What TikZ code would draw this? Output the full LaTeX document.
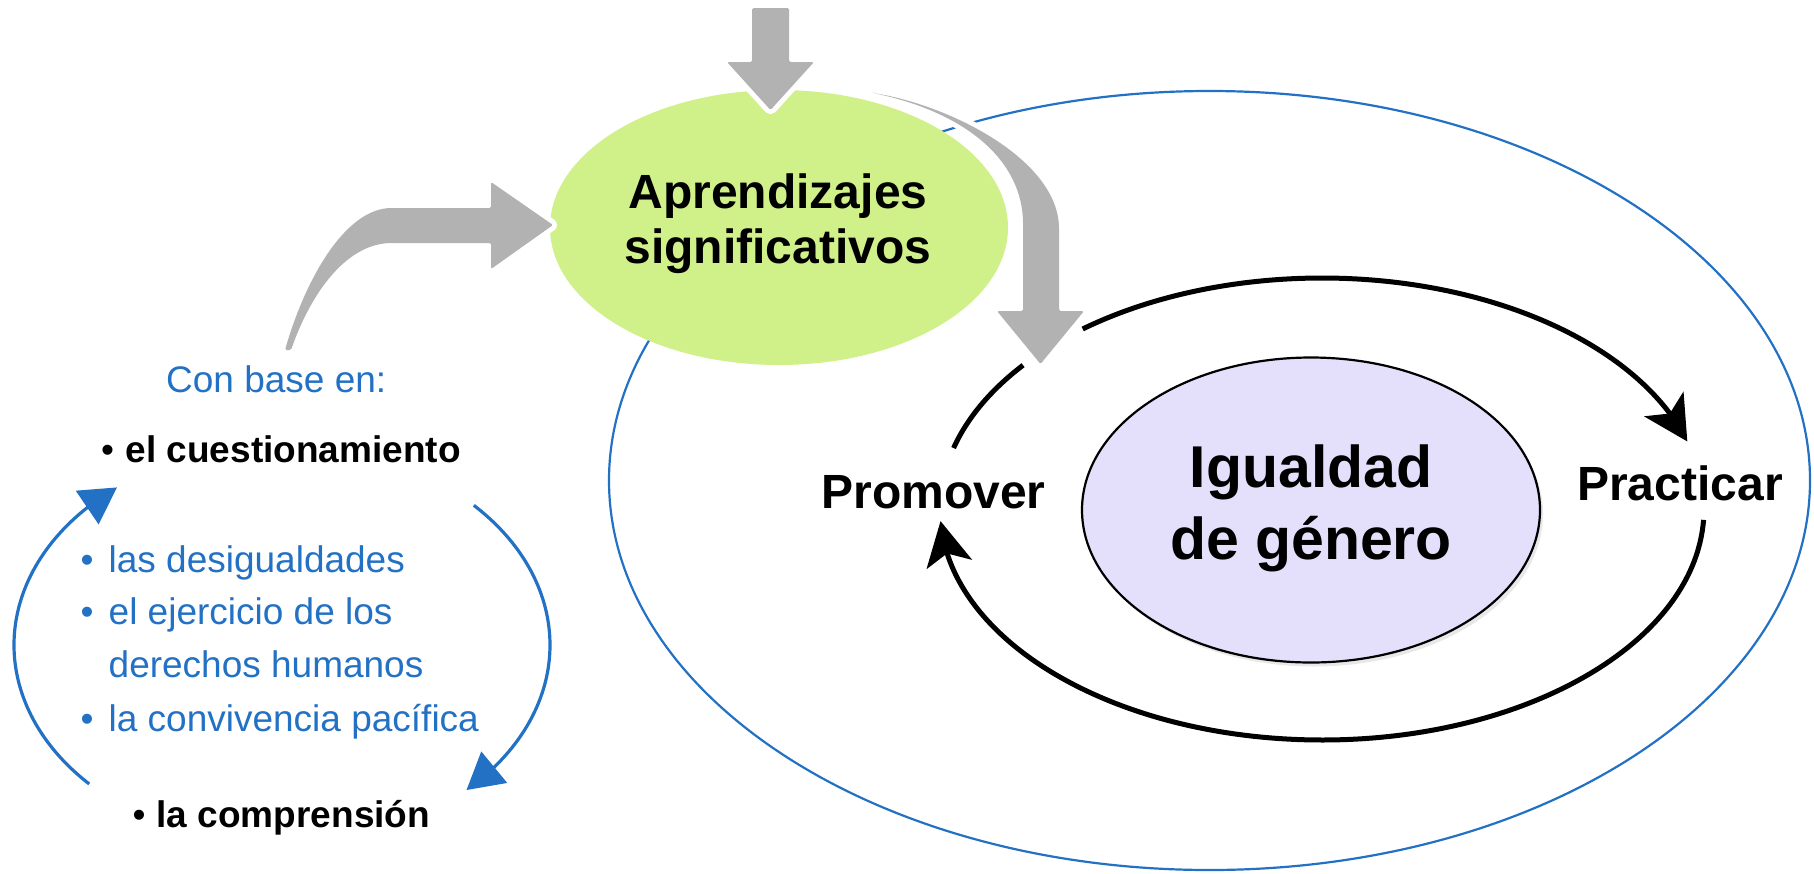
\documentclass[tikz,border=0pt]{standalone}
\usepackage{fontspec}
\setmainfont{Liberation Sans}
\usetikzlibrary{arrows.meta,shapes.geometric,shadows,bending}
\definecolor{bluec}{RGB}{34,113,196}
\definecolor{greenc}{RGB}{208,240,138}
\definecolor{lavc}{RGB}{228,224,252}
\definecolor{grayc}{RGB}{178,178,178}
\begin{document}
\begin{tikzpicture}[x=1pt,y=-1pt,
  bigtxt/.style={font=\bfseries\fontsize{48}{55}\selectfont, inner sep=0, anchor=base},
  hugetxt/.style={font=\bfseries\fontsize{59}{70}\selectfont, inner sep=0, anchor=base},
  listblack/.style={font=\bfseries\fontsize{37}{44}\selectfont, inner sep=0, anchor=base west},
  listblue/.style={font=\fontsize{37}{44}\selectfont, text=bluec, inner sep=0, anchor=base west},
  bulblack/.style={font=\fontsize{37}{44}\selectfont, inner sep=0, anchor=base},
  bulblue/.style={font=\fontsize{37}{44}\selectfont, text=bluec, inner sep=0, anchor=base},
  grayarrow/.style={fill=grayc, rounded corners=1.5pt, preaction={draw=white, line width=10pt, line join=round}},
  cycline/.style={line width=5pt, black},
  cyctip/.style={-{Stealth[length=44pt,width=46pt,inset=11pt]}},
  bluearc/.style={bluec, line width=3.2pt, -{Triangle[length=36pt,width=40pt]}}
]
\useasboundingbox (0,0) rectangle (1814,873);

% outer blue ellipse
\node[ellipse, draw=bluec, line width=2.2pt, minimum width=1201pt, minimum height=779pt, inner sep=0] (outer) at (1209.5,480.5) {};

% green ellipse
\node[ellipse, fill=greenc, minimum width=458pt, minimum height=275pt, inner sep=0] (apr) at (779,227.5) {};

% Igualdad ellipse
\node[ellipse, draw=black, line width=2.2pt, fill=lavc, minimum width=458pt, minimum height=305pt, inner sep=0,
      drop shadow={shadow xshift=3pt, shadow yshift=-4pt, opacity=0.18}] (igu) at (1311,510) {};

% black cycle
\coordinate (cyc) at (1322,509);
\draw[cycline] (cyc) ++(-164.7:382 and 231) arc[start angle=-164.7, end angle=-141.5, x radius=382, y radius=231];
\draw[cycline, cyctip] (cyc) ++(-128.8:382 and 231) arc[start angle=-128.8, end angle=-17, x radius=382, y radius=231];
\draw[cycline, cyctip] (cyc) ++(2.7:382 and 231) arc[start angle=2.7, end angle=177, x radius=382, y radius=231];

% gray arrows
\path[grayarrow] (752,8) -- (789,8) -- (789,62) -- (814,62) -- (770.5,110) -- (727,62) -- (752,62) -- cycle;
\path[grayarrow] (873,93) .. controls (950,105) and (1059,160) .. (1059,230) -- (1059,311) -- (1084,311)
   -- (1040.5,364) -- (997,311) -- (1023,311) -- (1023,225) .. controls (1023,160) and (965,112) .. (873,93) -- cycle;
\path[grayarrow] (285,350) .. controls (305,280) and (345,208) .. (393,208) -- (491,208) -- (491,182) -- (553,225)
   -- (491,269) -- (491,243) -- (393,243) .. controls (348,243) and (312,290) .. (291,350) -- cycle;

% texts
\node[bigtxt] (apr1) at (778,208) {Aprendizajes};
\node[bigtxt] (apr2) at (778,263) {significativos};
\node[hugetxt] (igu1) at (1311,487) {Igualdad};
\node[hugetxt] (igu2) at (1311,559) {de género};
\node[bigtxt] (prom) at (933.5,508) {Promover};
\node[bigtxt] (prac) at (1680,500) {Practicar};

\node[listblue] (conbase) at (166,392) {Con base en:};
\node[bulblack] (b1) at (107.5,462) {•};
\node[listblack] (cuest) at (125.5,462) {el cuestionamiento};
\node[bulblue] (b2) at (87,572) {•};
\node[listblue] (desig) at (108.5,572) {las desigualdades};
\node[bulblue] (b3) at (87,624) {•};
\node[listblue] (ejer) at (108.5,624) {el ejercicio de los};
\node[listblue] (dere) at (108.5,677) {derechos humanos};
\node[bulblue] (b4) at (87,731) {•};
\node[listblue] (conv) at (108.5,731) {la convivencia pacífica};
\node[bulblack] (b5) at (139,827) {•};
\node[listblack] (compr) at (156.5,827) {la comprensión};

% blue cycle arrows
\coordinate (lc) at (282,645);
\draw[bluearc] (lc) ++(136:268 and 200) arc[start angle=136, end angle=232, x radius=268, y radius=200];
\draw[bluearc] (lc) ++(-44.3:268 and 200) arc[start angle=-44.3, end angle=46.5, x radius=268, y radius=200];
\end{tikzpicture}
\end{document}
